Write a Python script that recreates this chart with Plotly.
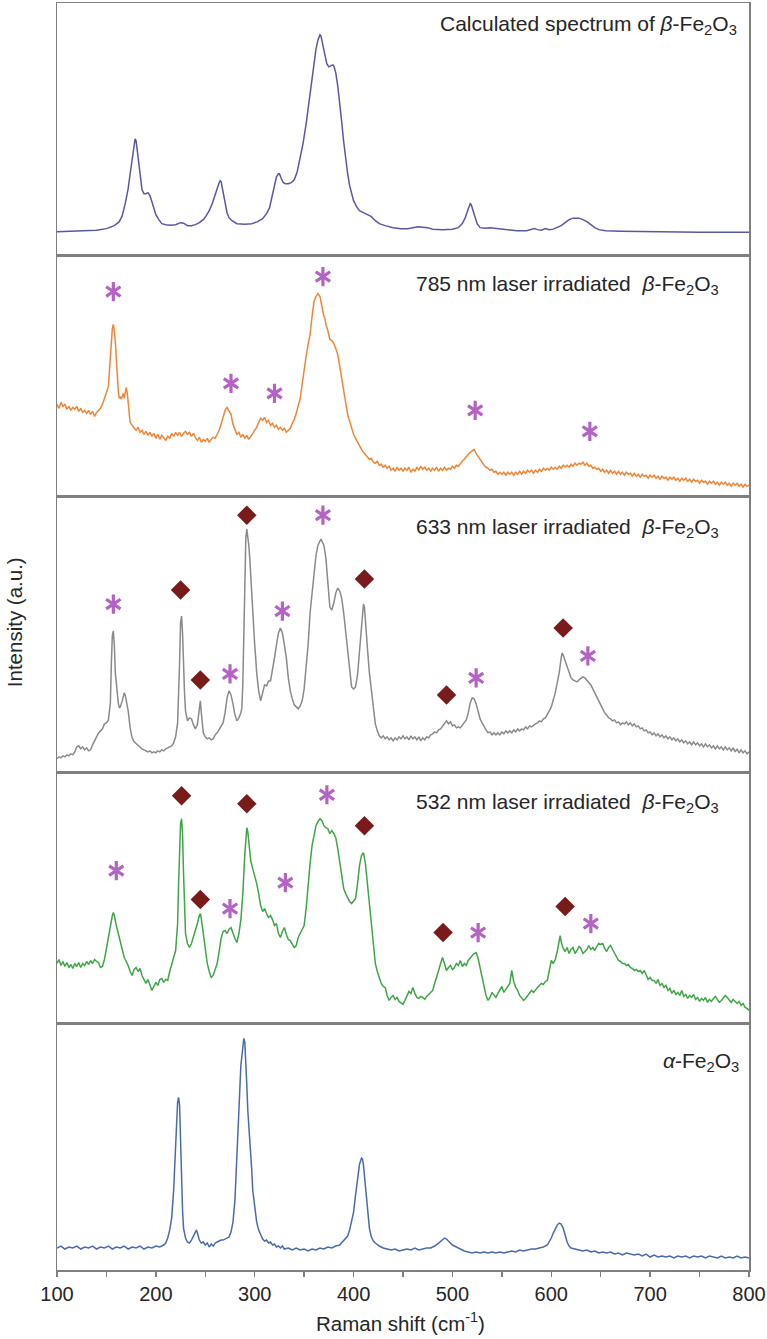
import plotly.graph_objects as go

# ---------------- data (Raman shift cm-1, intensity a.u.) ----------------
calc = [(100,24),(120,24.5),(140,25.5),(150,27),(158,30),(163,34),(166,40),(169,52),(172,67),(174,82),(176,97),(178,112),(179,117),(180,115),(182,100),(184,80),(186,66),(188,62),(190,62),(192,63),(194,60),(196,54),(198,47),(200,41),(203,36),(206,32),(210,31),(215,30.5),(220,31),(225,33),(228,32.5),(232,30),(236,30),(240,31),(244,33),(248,36),(251,40),(254,45),(257,52),(260,60),(262,67),(264,73),(265,75),(266,74),(268,64),(270,52),(272,43),(274,38),(277,35),(282,32),(290,31.5),(297,32),(303,34),(308,37),(312,42),(315,48),(318,60),(320,70),(322,79),(324,82),(325,82),(327,77),(329,73),(331,72),(334,72),(337,73),(340,76),(343,84),(346,97),(349,113),(352,132),(355,154),(358,178),(360,194),(362,207),(364,216),(366,221),(367,220),(369,212),(371,201),(373,192),(375,189),(377,190),(379,191),(380,190),(382,183),(384,170),(386,154),(388,134),(390,114),(392,97),(394,82),(396,70),(398,61),(400,55),(403,49),(406,45),(410,43),(414,41),(418,39),(422,35),(426,32),(432,30),(440,28),(448,27),(455,27),(460,28),(465,29),(470,28.5),(475,28),(480,26.5),(490,26),(500,26.5),(506,28),(510,32),(513,38),(515,44),(517,50),(518,52),(519,51),(521,45),(523,37),(525,32),(528,28),(533,27.5),(538,28),(542,27.5),(548,27),(555,25.5),(565,25),(575,25),(580,26),(583,27),(586,26),(590,25.5),(594,27),(598,26),(602,26.5),(606,28),(610,30),(614,33),(618,36),(622,37.5),(628,37.5),(632,36),(636,34),(640,31),(644,28),(648,26),(655,25),(670,24.5),(700,24),(750,23.5),(800,23.5)]

s785 = [(100,92),(102,88),(104,94),(106,90),(108,92),(110,87),(112,90),(114,86),(116,89),(118,87),(120,90),(122,85),(124,88),(126,84),(128,86),(130,83),(132,86),(134,82),(136,85),(138,80),(140,84),(142,86),(144,88),(146,92),(148,98),(150,102),(152,110),(153,125),(154,140),(155,158),(156,168),(157,172),(158,166),(159,155),(160,138),(161,118),(162,105),(163,98),(164,100),(165,97),(166,101),(167,103),(168,98),(169,102),(170,109),(171,104),(172,95),(173,84),(174,74),(176,71),(178,68),(180,66),(182,69),(184,64),(186,66),(188,62),(190,65),(192,61),(194,64),(196,60),(198,63),(200,58),(202,62),(204,57),(206,61),(208,58),(210,56),(212,60),(214,58),(216,63),(218,60),(220,64),(222,61),(224,64),(226,60),(228,63),(230,65),(232,62),(234,64),(236,60),(238,63),(240,59),(242,56),(244,59),(246,54),(248,57),(250,55),(252,58),(254,54),(256,57),(258,59),(260,58),(262,62),(264,66),(266,72),(268,80),(270,86),(272,89),(274,86),(276,82),(278,72),(280,66),(282,62),(284,64),(286,59),(288,62),(290,58),(292,61),(294,57),(296,60),(298,63),(300,66),(302,69),(304,74),(306,78),(308,76),(310,79),(312,74),(314,76),(316,71),(318,73),(320,69),(322,71),(324,67),(326,69),(328,66),(330,68),(332,64),(334,66),(336,68),(338,73),(340,77),(342,83),(344,90),(346,98),(348,112),(350,128),(352,140),(354,152),(356,162),(358,180),(360,195),(362,200),(364,203),(366,200),(367,194),(368,190),(369,186),(370,180),(371,178),(372,172),(374,166),(375,160),(376,157),(378,156),(380,153),(382,148),(384,142),(386,130),(388,118),(390,104),(392,92),(394,82),(396,75),(398,68),(400,62),(402,58),(404,54),(406,50),(408,47),(410,44),(412,42),(414,40),(416,37),(418,38),(420,34),(422,33),(424,35),(426,31),(428,32),(430,29),(432,31),(434,28),(436,30),(438,26),(440,28),(442,25),(444,29),(446,26),(448,28),(450,25),(452,28),(454,26),(456,29),(458,24),(460,27),(462,25),(464,29),(466,26),(468,30),(470,27),(472,29),(474,26),(476,28),(478,25),(480,28),(482,26),(484,29),(486,25),(488,28),(490,26),(492,29),(494,26),(496,28),(498,27),(500,30),(502,28),(504,31),(506,30),(508,33),(510,35),(512,37),(514,40),(516,42),(518,44),(520,46),(522,47),(524,43),(526,40),(528,36),(530,33),(532,31),(534,29),(536,28),(538,26),(540,27),(542,24),(544,25),(546,22),(548,24),(550,22),(552,24),(554,21),(556,24),(558,22),(560,24),(562,21),(564,24),(566,22),(568,25),(570,22),(572,25),(574,23),(576,26),(578,24),(580,26),(582,23),(584,26),(586,24),(588,27),(590,25),(592,28),(594,26),(596,28),(598,26),(600,29),(602,27),(604,29),(606,27),(608,30),(610,28),(612,31),(614,29),(616,31),(618,29),(620,32),(622,30),(624,33),(626,31),(628,33),(630,32),(632,34),(634,31),(636,33),(638,30),(640,31),(642,28),(644,29),(646,27),(648,28),(650,25),(652,27),(654,24),(656,26),(658,23),(660,26),(662,23),(664,25),(666,22),(668,25),(670,22),(672,24),(674,21),(676,24),(678,22),(680,23),(682,20),(684,23),(686,20),(688,22),(690,19),(692,22),(694,20),(696,21),(698,18),(700,21),(702,19),(704,21),(706,18),(708,20),(710,17),(712,20),(714,18),(716,19),(718,16),(720,19),(722,17),(724,19),(726,16),(728,18),(730,15),(732,18),(734,16),(736,18),(738,15),(740,17),(742,14),(744,17),(746,15),(748,16),(750,13),(752,16),(754,14),(756,15),(758,12),(760,15),(762,13),(764,15),(766,12),(768,14),(770,11),(772,14),(774,12),(776,14),(778,11),(780,13),(782,10),(784,13),(786,11),(788,13),(790,10),(792,12),(794,9),(796,12),(798,10),(800,11)]

s633 = [(100,14),(102,16),(104,15),(106,17),(108,16),(110,18),(112,17),(114,19),(116,18),(118,21),(120,26),(122,27),(124,24),(126,26),(128,23),(130,25),(132,22),(134,23),(136,28),(138,32),(140,37),(142,40),(144,42),(146,44),(148,49),(150,50),(152,53),(154,70),(155,110),(156,138),(157,142),(158,128),(159,100),(160,88),(161,80),(162,70),(163,65),(164,66),(166,72),(167,78),(168,80),(169,78),(170,72),(172,62),(174,45),(176,35),(178,31),(180,29),(182,27),(184,26),(186,24),(188,23),(190,22),(192,21),(194,22),(196,20),(198,21),(200,20),(202,22),(204,21),(206,23),(208,22),(210,24),(212,25),(214,26),(216,27),(218,30),(220,36),(222,50),(223,75),(224,110),(225,150),(226,157),(227,140),(228,105),(229,80),(230,62),(232,52),(234,55),(236,54),(238,48),(240,44),(242,48),(243,58),(244,68),(245,72),(246,60),(247,46),(248,40),(250,36),(252,34),(254,35),(256,33),(258,34),(260,38),(262,40),(264,43),(266,47),(268,50),(270,60),(272,75),(274,82),(276,78),(278,69),(280,58),(282,52),(284,55),(286,60),(287,65),(288,90),(289,140),(290,195),(291,235),(292,244),(293,238),(294,228),(295,215),(296,195),(297,175),(298,160),(300,128),(301,115),(302,100),(304,82),(306,72),(308,80),(310,88),(312,87),(314,92),(316,92),(318,102),(320,115),(322,128),(324,140),(326,145),(328,140),(330,128),(332,115),(334,95),(336,82),(338,74),(340,68),(342,66),(344,64),(346,67),(348,72),(350,84),(352,104),(354,128),(356,160),(358,182),(360,200),(362,218),(364,228),(366,233),(367,234),(368,232),(370,228),(372,215),(374,190),(375,172),(376,166),(378,163),(380,170),(382,180),(384,185),(386,182),(388,175),(390,160),(392,140),(394,120),(396,100),(398,86),(400,84),(402,86),(404,98),(406,122),(408,150),(409,162),(410,169),(411,166),(412,155),(413,142),(414,125),(416,100),(418,82),(420,62),(422,49),(424,42),(426,37),(428,35),(430,37),(432,34),(434,36),(436,33),(438,35),(440,32),(442,35),(444,33),(446,36),(448,34),(450,37),(452,34),(454,36),(456,33),(458,37),(460,34),(462,36),(464,33),(466,36),(468,32),(470,35),(472,33),(474,36),(476,35),(478,38),(480,39),(482,41),(484,40),(486,43),(488,44),(490,47),(492,50),(494,52),(496,49),(498,51),(500,47),(502,48),(504,45),(506,46),(508,45),(510,48),(512,50),(514,53),(516,60),(518,70),(520,75),(522,74),(524,69),(526,60),(528,54),(530,50),(532,46),(534,43),(536,40),(538,41),(540,38),(542,40),(544,38),(546,40),(548,38),(550,41),(552,39),(554,42),(556,40),(558,42),(560,40),(562,43),(564,41),(566,44),(568,42),(570,44),(572,43),(574,46),(576,44),(578,47),(580,46),(582,48),(584,49),(586,50),(588,52),(590,51),(592,54),(594,55),(596,58),(598,62),(600,66),(602,72),(604,80),(606,90),(608,100),(610,115),(611,120),(612,118),(614,112),(616,106),(618,100),(620,95),(622,93),(624,92),(626,91),(628,93),(630,95),(632,96),(634,95),(636,93),(638,90),(640,88),(642,84),(644,80),(646,76),(648,72),(650,69),(652,64),(654,60),(656,58),(658,55),(660,54),(662,52),(664,53),(666,50),(668,51),(670,48),(672,50),(674,49),(676,51),(678,48),(680,50),(682,47),(684,49),(686,46),(688,47),(690,44),(692,45),(694,42),(696,43),(698,40),(700,41),(702,38),(704,40),(706,37),(708,39),(710,36),(712,38),(714,35),(716,37),(718,34),(720,36),(722,33),(724,35),(726,32),(728,34),(730,31),(732,33),(734,30),(736,32),(738,29),(740,31),(742,28),(744,31),(746,28),(748,30),(750,27),(752,29),(754,26),(756,29),(758,26),(760,28),(762,25),(764,27),(766,24),(768,27),(770,24),(772,26),(774,23),(776,26),(778,23),(780,25),(782,22),(784,25),(786,21),(788,24),(790,20),(792,23),(794,20),(796,22),(798,19),(800,21)]

s532 = [(100,60),(102,64),(104,58),(106,62),(108,57),(110,61),(112,56),(114,59),(116,55),(118,60),(120,57),(122,61),(124,56),(126,60),(128,58),(130,62),(132,59),(134,63),(136,60),(138,64),(140,62),(142,61),(144,56),(146,57),(148,64),(150,75),(152,88),(154,98),(156,108),(157,111),(158,108),(160,98),(162,90),(164,80),(166,72),(168,66),(170,62),(172,58),(174,52),(176,48),(178,54),(180,56),(182,52),(184,55),(186,48),(188,44),(190,40),(192,44),(194,38),(196,33),(198,37),(200,41),(202,38),(204,44),(206,45),(208,41),(210,44),(212,43),(214,52),(216,58),(218,66),(220,73),(222,100),(223,140),(224,180),(225,200),(226,205),(227,190),(228,150),(229,110),(230,90),(232,80),(234,76),(236,80),(238,86),(240,93),(242,100),(244,108),(245,110),(246,105),(248,90),(250,72),(252,60),(254,52),(256,46),(258,48),(260,55),(262,60),(264,72),(266,85),(268,92),(270,93),(272,90),(274,94),(276,96),(278,90),(280,85),(282,81),(284,90),(286,104),(288,130),(290,170),(291,188),(292,196),(293,192),(294,180),(296,163),(298,155),(300,148),(302,140),(304,130),(306,118),(308,112),(310,115),(312,110),(314,106),(316,108),(318,104),(320,98),(322,100),(324,90),(326,86),(328,92),(330,96),(332,89),(334,84),(336,83),(338,80),(340,76),(342,78),(344,86),(346,90),(348,94),(350,98),(352,115),(354,140),(356,160),(358,178),(360,190),(362,198),(364,202),(366,205),(368,203),(370,198),(372,196),(374,195),(376,190),(378,193),(380,190),(382,186),(384,175),(386,160),(388,145),(390,135),(392,130),(394,125),(396,122),(398,120),(400,122),(402,125),(404,140),(406,158),(408,168),(410,171),(412,160),(414,140),(416,115),(418,98),(420,75),(422,60),(424,52),(426,46),(428,40),(430,37),(432,36),(434,28),(436,23),(438,26),(440,28),(442,24),(444,26),(446,22),(448,20),(450,19),(452,23),(454,28),(456,32),(458,30),(460,36),(462,30),(464,26),(466,25),(468,27),(470,26),(472,24),(474,27),(476,29),(478,31),(480,33),(482,40),(484,48),(486,53),(488,60),(490,66),(492,60),(494,53),(496,56),(498,58),(500,54),(502,56),(504,60),(506,58),(508,63),(510,57),(512,60),(514,58),(516,63),(518,66),(520,68),(522,70),(524,71),(526,65),(528,55),(530,45),(532,35),(534,28),(536,23),(538,26),(540,31),(542,28),(544,26),(546,30),(548,33),(550,37),(552,31),(554,34),(556,36),(558,40),(560,53),(562,42),(564,36),(566,33),(568,28),(570,26),(572,23),(574,25),(576,28),(578,30),(580,33),(582,31),(584,34),(586,36),(588,38),(590,40),(592,39),(594,42),(596,43),(598,55),(600,63),(602,60),(604,64),(606,72),(608,86),(609,88),(610,82),(612,75),(614,72),(616,76),(618,70),(620,74),(622,76),(624,70),(626,73),(628,77),(630,75),(632,70),(634,72),(636,74),(638,78),(640,74),(642,76),(644,73),(646,77),(648,80),(650,79),(652,80),(654,75),(656,72),(658,76),(660,78),(662,74),(664,70),(666,66),(668,63),(670,62),(672,60),(674,60),(676,58),(678,59),(680,56),(682,55),(684,53),(686,54),(688,52),(690,53),(692,50),(694,53),(696,48),(698,44),(700,46),(702,43),(704,43),(706,40),(708,44),(710,38),(712,40),(714,36),(716,38),(718,33),(720,35),(722,30),(724,33),(726,29),(728,31),(730,28),(732,33),(734,27),(736,29),(738,25),(740,28),(742,26),(744,29),(746,24),(748,26),(750,22),(752,25),(754,23),(756,26),(758,21),(760,24),(762,22),(764,25),(766,27),(768,24),(770,21),(772,23),(774,25),(776,28),(778,26),(780,23),(782,21),(784,24),(786,22),(788,20),(790,22),(792,18),(794,20),(796,16),(798,15),(800,13)]

alpha = [(100,22),(104,24),(108,21),(112,23),(116,22),(120,24),(124,21),(128,23),(132,22),(136,24),(140,21),(144,23),(148,22),(152,24),(156,21),(160,23),(164,22),(168,24),(172,21),(176,23),(180,22),(184,24),(188,21),(192,23),(196,22),(200,24),(204,23),(208,25),(210,27),(212,32),(214,40),(216,52),(218,80),(220,130),(222,168),(223,173),(224,165),(225,130),(226,90),(227,60),(228,42),(230,32),(232,28),(234,27),(236,30),(238,34),(240,39),(241,40),(242,37),(244,30),(246,27),(248,28),(250,25),(252,27),(254,23),(256,26),(258,24),(260,27),(262,28),(264,29),(266,30),(268,30),(270,31),(272,32),(274,33),(276,38),(278,48),(280,70),(282,110),(284,160),(286,205),(288,228),(289,232),(290,228),(291,210),(292,185),(293,160),(294,145),(295,137),(296,125),(297,100),(298,80),(300,62),(302,48),(304,40),(306,35),(308,31),(310,29),(312,30),(314,27),(316,28),(318,25),(320,26),(322,23),(324,24),(326,22),(328,24),(330,21),(334,22),(338,20),(342,22),(346,20),(350,21),(354,19),(358,21),(362,20),(366,22),(370,21),(374,23),(378,22),(382,24),(386,25),(388,27),(390,29),(392,31),(394,34),(396,40),(398,48),(400,58),(402,75),(404,92),(406,106),(408,112),(409,111),(410,105),(412,85),(414,60),(416,42),(418,33),(420,29),(422,27),(424,25),(426,24),(428,23),(430,22),(434,21),(438,20),(442,21),(446,19),(450,20),(454,21),(458,20),(462,22),(466,20),(470,21),(474,22),(478,22),(482,24),(486,27),(488,29),(490,31),(492,32),(494,31),(496,29),(498,27),(500,25),(504,23),(508,21),(512,19),(516,18),(520,17),(524,18),(528,17),(532,18),(536,17),(540,18),(544,17),(548,18),(552,17),(556,18),(560,19),(564,18),(568,20),(572,19),(576,20),(580,21),(584,21),(588,22),(592,23),(596,25),(598,28),(600,32),(602,37),(604,42),(606,45),(608,47),(610,46),(612,42),(614,35),(616,28),(618,24),(620,22),(624,21),(628,20),(632,19),(636,20),(640,18),(644,19),(648,17),(652,18),(656,17),(660,18),(664,16),(668,17),(672,15),(676,17),(680,16),(684,15),(688,16),(692,14),(696,16),(700,13),(704,15),(708,13),(712,14),(716,13),(720,14),(724,12),(728,14),(732,13),(736,14),(740,12),(744,14),(748,13),(752,14),(756,12),(760,14),(764,13),(768,12),(772,14),(776,12),(780,13),(784,12),(788,14),(792,12),(796,13),(800,12)]

# peak markers (x, height)
ast_785 = [(157,205),(276,113),(320,103),(369,220),(523,86),(639,65)]
ast_633 = [(157,169),(275,99),(328,162),(369,258),(524,95),(637,117)]
dia_633 = [(225,183),(245,93),(292,258),(411,194),(494,78),(612,145)]
ast_532 = [(160,153),(275,115),(331,141),(373,229),(526,91),(640,100)]
dia_532 = [(226,228),(245,124),(292,220),(411,198),(490.5,91),(614,117)]

labels = ["Calculated spectrum of <i>β</i>-Fe<sub>2</sub>O<sub>3</sub>",
          "785 nm laser irradiated\u00a0 <i>β</i>-Fe<sub>2</sub>O<sub>3</sub>",
          "633 nm laser irradiated\u00a0 <i>β</i>-Fe<sub>2</sub>O<sub>3</sub>",
          "532 nm laser irradiated\u00a0 <i>β</i>-Fe<sub>2</sub>O<sub>3</sub>",
          "<i>α</i>-Fe<sub>2</sub>O<sub>3</sub>"]
x_title = "Raman shift (cm<sup>-1</sup>)"
y_title = "Intensity (a.u.)"

# ---------------- styling ----------------
W, H = 767, 1339
ML, MR, MT, MB = 57, 15, 1, 69
panel_px = [(1,254),(254,495),(495,772),(772,1023),(1023,1270)]
colors = ["#5a56a8", "#ef8537", "#8a8a8a", "#3ea646", "#4a6aae"]
spectra = [calc, s785, s633, s532, alpha]
FONT = "Liberation Sans, Arial, sans-serif"
TXT_C = "#262626"
AST_C = "#b462c4"
DIA_C = "#7a1b1b"
FRAME = "#7f7f7f"

ph = H - MT - MB
pw = W - ML - MR
fig = go.Figure()
layout = dict(width=W, height=H, margin=dict(l=ML, r=MR, t=MT, b=MB),
              paper_bgcolor="white", plot_bgcolor="white", showlegend=False)

def split(p):
    return [a for a, b in p], [b for a, b in p]

for i, (spec, col, (top, bot)) in enumerate(zip(spectra, colors, panel_px)):
    n = i + 1
    xs = "x" if n == 1 else f"x{n}"
    ys = "y" if n == 1 else f"y{n}"
    xa = "xaxis" if n == 1 else f"xaxis{n}"
    ya = "yaxis" if n == 1 else f"yaxis{n}"
    d0 = (H - MB - bot) / ph
    d1 = (H - MB - top) / ph
    hgt = bot - top
    x, y = split(spec)
    fig.add_trace(go.Scatter(x=x, y=y, mode="lines", line=dict(color=col, width=1.5),
                             xaxis=xs, yaxis=ys, hoverinfo="skip"))
    ax = dict(domain=[0, 1], range=[100, 800], anchor=ys, showgrid=False, zeroline=False,
              showline=True, mirror=True, linecolor=FRAME, linewidth=1.5,
              showticklabels=False, ticks="")
    if n == 5:
        ax.update(ticks="outside", ticklen=5, tickwidth=1.5, tickcolor=FRAME,
                  tick0=100, dtick=100, showticklabels=True, ticklabeloverflow="allow",
                  tickfont=dict(family=FONT, size=20, color=TXT_C),
                  minor=dict(dtick=50, ticks="outside", ticklen=5, tickwidth=1.5,
                             tickcolor=FRAME, showgrid=False))
    else:
        ax.update(matches="x5")
    layout[xa] = ax
    layout[ya] = dict(domain=[d0, d1], range=[0, hgt], anchor=xs, showgrid=False,
                      zeroline=False, showline=True, mirror=True, linecolor=FRAME,
                      linewidth=1.5, showticklabels=False, ticks="")

def add_markers(points, n, kind):
    xs = "x" if n == 1 else f"x{n}"
    ys = "y" if n == 1 else f"y{n}"
    x, y = split(points)
    if kind == "ast":
        for sym in ("y-up-open", "y-down-open"):
            fig.add_trace(go.Scatter(x=x, y=y, mode="markers", xaxis=xs, yaxis=ys,
                                     marker=dict(symbol=sym, size=12, color=AST_C,
                                                 line=dict(color=AST_C, width=3.2)),
                                     hoverinfo="skip"))
    else:
        fig.add_trace(go.Scatter(x=x, y=y, mode="markers", xaxis=xs, yaxis=ys,
                                 marker=dict(symbol="diamond", size=15, color=DIA_C,
                                             line=dict(width=0)),
                                 hoverinfo="skip"))

add_markers(ast_785, 2, "ast")
add_markers(ast_633, 3, "ast")
add_markers(dia_633, 3, "dia")
add_markers(ast_532, 4, "ast")
add_markers(dia_532, 4, "dia")

# label positions (px) -> paper
label_px = [(742, 23), (724, 283), (724, 527), (724, 802), (744, 1062)]
annotations = []
for txt, (px, py) in zip(labels, label_px):
    annotations.append(dict(text=txt, xref="paper", yref="paper",
                            x=(px - ML) / pw, y=(H - MB - py) / ph,
                            xanchor="right", yanchor="middle", showarrow=False,
                            font=dict(family=FONT, size=21, color=TXT_C)))
annotations.append(dict(text=x_title, xref="paper", yref="paper",
                        x=(402 - ML) / pw, y=(H - MB - 1322) / ph, xanchor="center",
                        yanchor="middle", showarrow=False,
                        font=dict(family=FONT, size=20.5, color=TXT_C)))
annotations.append(dict(text=y_title, xref="paper", yref="paper",
                        x=(14 - ML) / pw, y=(H - MB - 621) / ph, textangle=-90,
                        xanchor="center", yanchor="middle", showarrow=False,
                        font=dict(family=FONT, size=20.5, color=TXT_C)))
layout["annotations"] = annotations
fig.update_layout(**layout)
fig.write_html("out.html", config={"displayModeBar": False, "staticPlot": True},
               post_script="document.body.style.margin='0';document.body.style.overflow='hidden';")
